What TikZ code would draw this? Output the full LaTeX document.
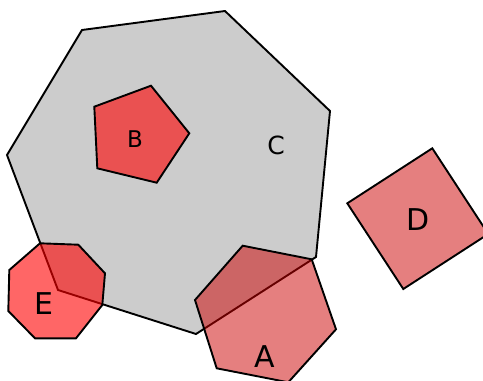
\documentclass[tikz,border=0pt]{standalone}
\usepackage{fontspec}
\setmainfont{DejaVu Sans}
\begin{document}
\begin{tikzpicture}[x=1pt,y=-1pt,
  outline/.style={draw=black,line width=1.9pt,line join=miter},
  greyface/.style={outline,fill=gray!40},
  redface/.style={outline,fill=red,fill opacity=0.6},
  darkface/.style={outline,fill=red!80!black,fill opacity=0.5},
  tag/.style={font=\fontsize{30}{30}\selectfont},
  smalltag/.style={font=\fontsize{23}{23}\selectfont}]
  \useasboundingbox (0,0) rectangle (483,381);
  \clip (0,0) rectangle (483,381);
  % big grey polygon
  \draw[greyface] (82,30) -- (225,11) -- (330,111) -- (316,257) -- (196,334)
    -- (58,290) -- (7,155) -- cycle;
  \node[font=\fontsize{25}{25}\selectfont] (labelC) at (276,145) {C};
  % pentagon
  \draw[redface] (94.3,106.7) -- (151,85.7) -- (189.3,133.3) -- (156.7,182.7)
    -- (97.3,168.3) -- cycle;
  \node[smalltag] (labelB) at (135,139) {B};
  % octagon
  \draw[redface] (40,243.3) -- (78.3,244.7) -- (105,273.3) -- (102.3,305)
    -- (76,338.3) -- (35,338.3) -- (8.3,311) -- (9.3,270) -- cycle;
  \node[tag] (labelE) at (44,304) {E};
  % hexagon
  \draw[darkface] (242.7,245.7) -- (311.7,259.3) -- (336,329.3) -- (288.3,382.3)
    -- (216.7,368.3) -- (195,300) -- cycle;
  \node[tag] (labelA) at (265,357) {A};
  % square
  \draw[darkface] (432.3,148.3) -- (488.3,234) -- (403.3,289) -- (347.3,203.3) -- cycle;
  \node[tag] (labelD) at (418,220) {D};
\end{tikzpicture}
\end{document}
